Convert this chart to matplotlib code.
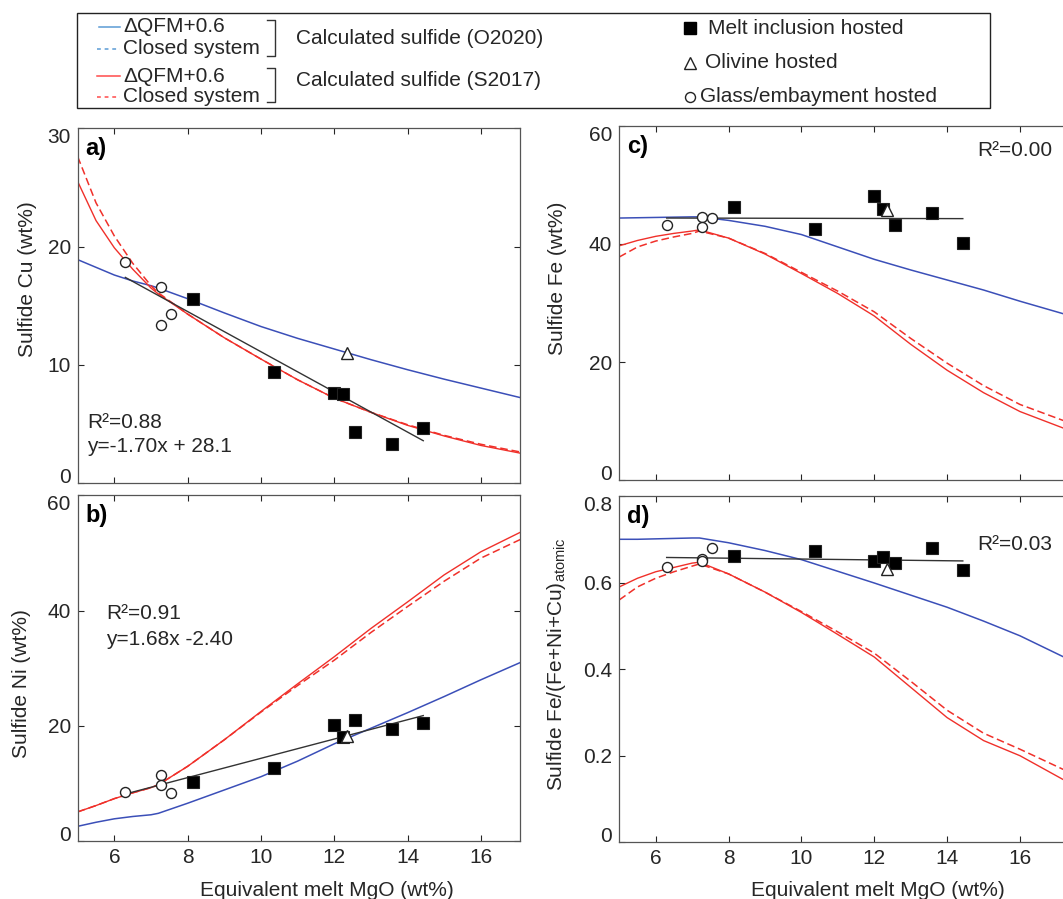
import matplotlib
matplotlib.use('Agg')
import matplotlib.pyplot as plt
from matplotlib.patches import Rectangle

plt.rcParams['font.family'] = ['Liberation Sans', 'DejaVu Sans']
plt.rcParams['mathtext.fontset'] = 'custom'
plt.rcParams['mathtext.rm'] = 'Liberation Sans'
plt.rcParams['mathtext.it'] = 'Liberation Sans:italic'

W, H = 1063, 899
BLUE = '#3b4fb8'
RED = '#f0302a'
LEG_BLUE = '#5b9bd5'
LEG_RED = '#ff4a4a'
INK = '#262626'

# samples: equivalent melt MgO (wt%)
MI_MGO = [8.14, 10.37, 11.99, 12.25, 12.58, 13.59, 14.43]   # melt inclusion hosted
OL_MGO = [12.35]                                              # olivine hosted
GL_MGO = [6.30, 7.27, 7.27, 7.54]                             # glass/embayment hosted

MI_CU = [15.55, 9.43, 7.66, 7.55, 4.36, 3.30, 4.65]
OL_CU = [11.04]
GL_CU = [18.73, 16.62, 13.38, 14.31]

MI_NI = [10.34, 12.77, 20.17, 18.03, 21.03, 19.53, 20.45]
OL_NI = [18.26]
GL_NI = [8.6, 11.55, 9.76, 8.43]

MI_FE = [46.2, 42.5, 48.2, 45.9, 43.2, 45.2, 40.1]
OL_FE = [45.8]
GL_FE = [43.2, 44.5, 42.9, 44.35]

MI_RATIO = [0.662, 0.674, 0.650, 0.660, 0.645, 0.679, 0.629]
OL_RATIO = [0.631]
GL_RATIO = [0.637, 0.655, 0.650, 0.681]

# linear fits through the samples (end points)
FIT_X = [6.30, 14.43]
FIT_CU = [17.4, 3.6]
FIT_NI = [8.2, 21.8]
FIT_FE = [44.4, 44.3]
FIT_RATIO = [0.658, 0.650]

# calculated sulfide compositions along the model
MODEL_MGO = [5, 5.5, 6, 6.5, 7, 7.2, 8, 9, 10, 11, 12, 13, 14, 15, 16, 17.4]

O2020_CU = [18.9, 18.25, 17.6, 17.1, 16.7, 16.5, 15.6, 14.4, 13.25, 12.25, 11.35, 10.45, 9.6, 8.8, 8.05, 7.0]
S2017_CU = [25.5, 22.2, 19.9, 18.1, 16.5, 16.0, 14.3, 12.3, 10.5, 8.75, 7.2, 6.0, 4.9, 4.0, 3.2, 2.35]
S2017_CU_CLOSED = [27.6, 23.7, 20.9, 18.6, 16.7, 16.1, 14.3, 12.3, 10.5, 8.75, 7.2, 6.0, 4.95, 4.05, 3.3, 2.45]

O2020_NI = [2.6, 3.3, 3.9, 4.3, 4.6, 4.85, 6.6, 8.9, 11.2, 13.9, 16.9, 19.6, 22.3, 25.1, 28.0, 31.9]
S2017_NI = [5.1, 6.2, 7.4, 8.4, 9.3, 9.8, 13.0, 17.6, 22.5, 27.3, 32.0, 36.9, 41.5, 46.2, 50.2, 54.6]
S2017_NI_CLOSED = [5.1, 6.2, 7.4, 8.4, 9.3, 9.8, 13.0, 17.6, 22.4, 27.0, 31.4, 36.2, 40.7, 45.1, 49.1, 53.3]

O2020_FE = [44.4, 44.45, 44.5, 44.55, 44.6, 44.6, 44.0, 43.0, 41.6, 39.5, 37.4, 35.6, 33.9, 32.2, 30.3, 27.8]
S2017_FE = [39.7, 40.6, 41.3, 41.8, 42.2, 42.4, 41.0, 38.3, 35.0, 31.6, 27.8, 23.0, 18.6, 14.8, 11.6, 8.3]
S2017_FE_CLOSED = [37.8, 39.5, 40.5, 41.2, 41.8, 42.2, 41.0, 38.4, 35.2, 32.0, 28.5, 24.0, 19.8, 16.0, 12.8, 9.6]

O2020_RATIO = [0.700, 0.700, 0.701, 0.702, 0.703, 0.703, 0.692, 0.674, 0.653, 0.626, 0.599, 0.571, 0.543, 0.511, 0.477, 0.420]
S2017_RATIO = [0.590, 0.610, 0.625, 0.635, 0.645, 0.647, 0.620, 0.578, 0.531, 0.480, 0.428, 0.358, 0.288, 0.235, 0.200, 0.135]
S2017_RATIO_CLOSED = [0.560, 0.590, 0.610, 0.625, 0.638, 0.643, 0.620, 0.578, 0.533, 0.486, 0.437, 0.372, 0.305, 0.252, 0.215, 0.160]


def px_rect(left, right, top, bottom):
    return [left / W, 1 - bottom / H, (right - left) / W, (bottom - top) / H]


def style_axes(ax, xlim, ylim, yticks, yticklabels=None, xlabels=True):
    ax.set_xlim(*xlim)
    ax.set_ylim(*ylim)
    ax.set_xticks([6, 8, 10, 12, 14, 16])
    ax.set_yticks(yticks)
    if yticklabels is not None:
        ax.set_yticklabels(yticklabels)
    if not xlabels:
        ax.tick_params(labelbottom=False)
    ax.tick_params(direction='in', top=True, right=True, length=4, width=0.8,
                   labelsize=15, pad=5, colors=INK)
    # end labels kept inside the axes height, as in the original
    ticks = ax.yaxis.get_major_ticks()
    ticks[0].label1.set_verticalalignment('baseline')
    ticks[-1].label1.set_verticalalignment('top')
    for sp in ax.spines.values():
        sp.set_color('#555555')
        sp.set_linewidth(0.9)


def draw_panel(ax, o2020, s2017, s2017_closed, fit, mi, ol, gl):
    ax.plot(MODEL_MGO, o2020, color=BLUE, lw=1.1, zorder=2)
    ax.plot(MODEL_MGO, s2017_closed, color=RED, lw=1.1, ls=(0, (5, 2.5)), zorder=2)
    ax.plot(MODEL_MGO, s2017, color=RED, lw=1.0, zorder=2)
    ax.plot(FIT_X, fit, color='#333333', lw=1.0, zorder=3)
    ax.plot(MI_MGO, mi, ls='none', marker='s', ms=8.2, mfc='black', mec='#222222', mew=0.8, zorder=4)
    ax.plot(OL_MGO, ol, ls='none', marker='^', ms=8.5, mfc='white', mec='#222222', mew=1.0, zorder=5)
    ax.plot(GL_MGO, gl, ls='none', marker='o', ms=7.2, mfc='white', mec='#222222', mew=1.0, zorder=5)


fig = plt.figure(figsize=(W / 100, H / 100), dpi=100)

ax_a = fig.add_axes(px_rect(77.7, 520, 128.3, 483.3))
ax_b = fig.add_axes(px_rect(77.7, 520, 495.3, 841.3))
ax_c = fig.add_axes(px_rect(619.3, 1071, 126, 480))
ax_d = fig.add_axes(px_rect(619.3, 1071, 496, 842.3))

draw_panel(ax_a, O2020_CU, S2017_CU, S2017_CU_CLOSED, FIT_CU, MI_CU, OL_CU, GL_CU)
draw_panel(ax_b, O2020_NI, S2017_NI, S2017_NI_CLOSED, FIT_NI, MI_NI, OL_NI, GL_NI)
draw_panel(ax_c, O2020_FE, S2017_FE, S2017_FE_CLOSED, FIT_FE, MI_FE, OL_FE, GL_FE)
draw_panel(ax_d, O2020_RATIO, S2017_RATIO, S2017_RATIO_CLOSED, FIT_RATIO, MI_RATIO, OL_RATIO, GL_RATIO)

style_axes(ax_a, (5, 17.07), (0, 30), [0, 10, 20, 30], xlabels=False)
style_axes(ax_b, (5, 17.07), (0, 60), [0, 20, 40, 60])
style_axes(ax_c, (5, 17.4), (0, 60), [0, 20, 40, 60], xlabels=False)
style_axes(ax_d, (5, 17.4), (0, 0.8), [0, 0.2, 0.4, 0.6, 0.8],
           yticklabels=['0', '0.2', '0.4', '0.6', '0.8'])

ax_a.set_ylabel('Sulfide Cu (wt%)', fontsize=15, color=INK, va='center')
ax_a.yaxis.set_label_coords(-0.1135, 0.575)
ax_b.set_ylabel('Sulfide Ni (wt%)', fontsize=15, color=INK, va='center')
ax_b.yaxis.set_label_coords(-0.1266, 0.455)
ax_c.set_ylabel('Sulfide Fe (wt%)', fontsize=15, color=INK, va='center')
ax_c.yaxis.set_label_coords(-0.1368, 0.569)
ax_d.set_ylabel('Sulfide Fe/(Fe+Ni+Cu)$_{\\mathrm{atomic}}$', fontsize=15, color=INK, va='center')
ax_d.yaxis.set_label_coords(-0.139, 0.515)

ax_b.set_xlabel('Equivalent melt MgO (wt%)', fontsize=15, color=INK, va='center')
ax_b.xaxis.set_label_coords(0.563, -0.141)
ax_d.set_xlabel('Equivalent melt MgO (wt%)', fontsize=15, color=INK, va='center')
ax_d.xaxis.set_label_coords(0.5716, -0.138)

for ax, lab in [(ax_a, 'a)'), (ax_b, 'b)'), (ax_c, 'c)'), (ax_d, 'd)')]:
    ax.text(0.017, 0.975, lab, transform=ax.transAxes, fontsize=17,
            fontweight='bold', va='top', ha='left', color='black')

ax_a.text(0.022, 0.170, 'R²=0.88', transform=ax_a.transAxes, fontsize=15, va='center', color=INK)
ax_a.text(0.022, 0.105, 'y=-1.70x + 28.1', transform=ax_a.transAxes, fontsize=15, va='center', color=INK)
ax_b.text(0.064, 0.658, 'R²=0.91', transform=ax_b.transAxes, fontsize=15, va='center', color=INK)
ax_b.text(0.064, 0.582, 'y=1.68x -2.40', transform=ax_b.transAxes, fontsize=15, va='center', color=INK)
ax_c.text(14.82, 55.9, 'R²=0.00', fontsize=15, va='center', color=INK)
ax_d.text(14.82, 0.687, 'R²=0.03', fontsize=15, va='center', color=INK)

# legend box, laid out in pixel coordinates
lax = fig.add_axes([0, 0, 1, 1])
lax.set_xlim(0, W)
lax.set_ylim(H, 0)
lax.axis('off')
lax.add_patch(Rectangle((77, 12.5), 913, 95.5, fill=False, ec='#222222', lw=1.0))

fs = 15
lax.plot([99, 120], [27, 27], color=LEG_BLUE, lw=1.1)
lax.text(123, 27, 'ΔQFM+0.6', fontsize=fs, va='center', color=INK)
lax.plot([97, 120], [49, 49], color=LEG_BLUE, lw=1.1, ls=(0, (2.5, 2.5)))
lax.text(123, 49, 'Closed system', fontsize=fs, va='center', color=INK)
lax.plot([267, 275, 275, 267], [20, 20, 56, 56], color='#333333', lw=1.0)
lax.text(296, 38, 'Calculated sulfide (O2020)', fontsize=fs, va='center', color=INK)

lax.plot([97, 120], [76, 76], color=LEG_RED, lw=1.1)
lax.text(123, 76, 'ΔQFM+0.6', fontsize=fs, va='center', color=INK)
lax.plot([97, 120], [97, 97], color=LEG_RED, lw=1.1, ls=(0, (2.5, 2.5)))
lax.text(123, 97, 'Closed system', fontsize=fs, va='center', color=INK)
lax.plot([267, 275, 275, 267], [68, 68, 102, 102], color='#333333', lw=1.0)
lax.text(296, 80, 'Calculated sulfide (S2017)', fontsize=fs, va='center', color=INK)

lax.plot([690], [28], marker='s', ms=8.5, mfc='black', mec='black')
lax.text(708, 28, 'Melt inclusion hosted', fontsize=fs, va='center', color=INK)
lax.plot([690], [63], marker='^', ms=9, mfc='white', mec='#222222', mew=1.0)
lax.text(705, 63, 'Olivine hosted', fontsize=fs, va='center', color=INK)
lax.plot([690], [97], marker='o', ms=7.2, mfc='white', mec='#222222', mew=1.0)
lax.text(700, 97, 'Glass/embayment hosted', fontsize=fs, va='center', color=INK)

fig.savefig('out.png', dpi=100)
